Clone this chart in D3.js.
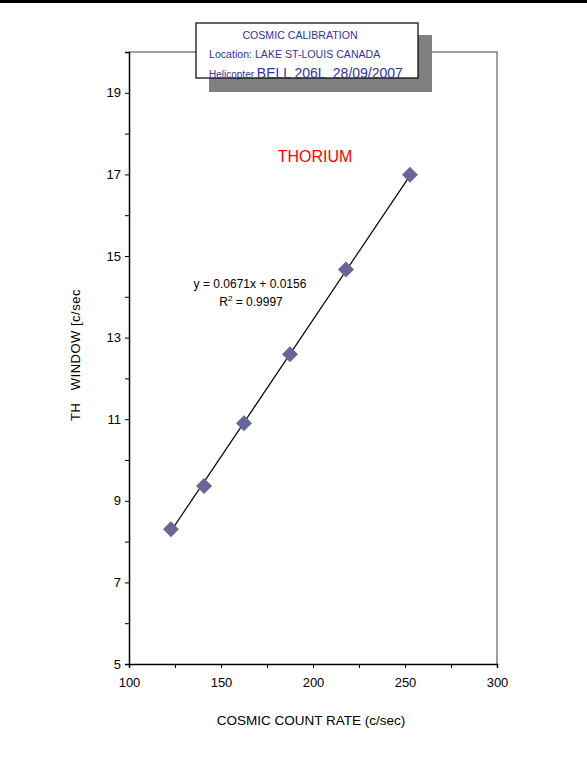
<!DOCTYPE html>
<html><head><meta charset="utf-8">
<script src="https://cdn.jsdelivr.net/npm/d3@7"></script>
<style>body{margin:0;background:#fff}svg{display:block;font-family:"Liberation Sans",Arial,sans-serif}svg text{white-space:pre}</style>
</head><body><svg id="c" width="587" height="761"></svg>
<script>
const cosmicRate = [122.8, 140.8, 162.5, 187.5, 217.9, 252.7];
const thWindow   = [8.30, 9.36, 10.90, 12.59, 14.67, 16.99];
const slope = 0.0671, intercept = 0.0156;
const xMajorTicks = [100, 150, 200, 250, 300];
const xMinorTicks = [100, 125, 150, 175, 200, 225, 250, 275, 300];
const yMajorTicks = [5, 7, 9, 11, 13, 15, 17, 19];
const yMinorTicks = d3.range(5, 21, 1);
const titleLines = ["COSMIC CALIBRATION", "Location: LAKE ST-LOUIS CANADA"];

const svg = d3.select("#c");
const L = 129, R = 497, T = 52, B = 664;
const x = d3.scaleLinear().domain([100, 300]).range([L, R]);
const y = d3.scaleLinear().domain([5, 20]).range([B, T]);

// top rule
svg.append("rect").attr("x", 0).attr("y", 0).attr("width", 587).attr("height", 3).attr("fill", "#000");

// plot frame (gray top/right)
svg.append("path").attr("d", `M${L},${T}H${R}V${B}`).attr("fill", "none").attr("stroke", "#808080").attr("stroke-width", 1.5);

// axes
const gx = svg.append("g").attr("transform", `translate(0,${B})`);
gx.call(d3.axisBottom(x).tickValues(xMinorTicks).tickSize(4).tickFormat(""));
const gx2 = svg.append("g").attr("transform", `translate(0,${B})`);
gx2.call(d3.axisBottom(x).tickValues(xMajorTicks).tickSize(0).tickPadding(14).tickFormat(d3.format("d")));
gx2.select(".domain").remove();
const gy = svg.append("g").attr("transform", `translate(${L},0)`);
gy.call(d3.axisLeft(y).tickValues(yMinorTicks).tickSize(4).tickFormat(""));
const gy2 = svg.append("g").attr("transform", `translate(${L},0)`);
gy2.call(d3.axisLeft(y).tickValues(yMajorTicks).tickSize(0).tickPadding(8).tickFormat(d3.format("d")));
gy2.select(".domain").remove();
svg.selectAll(".domain").attr("stroke", "#000").attr("stroke-width", 1.5);
svg.selectAll(".tick line").attr("stroke", "#000");
svg.selectAll(".tick text").attr("font-size", 13).attr("fill", "#000").attr("font-family", "Liberation Sans, Arial, sans-serif");

// trendline
const x0 = d3.min(cosmicRate), x1 = d3.max(cosmicRate);
svg.append("line").attr("x1", x(x0)).attr("y1", y(slope * x0 + intercept))
  .attr("x2", x(x1)).attr("y2", y(slope * x1 + intercept)).attr("stroke", "#000").attr("stroke-width", 1.2);

// markers
svg.append("g").selectAll("path").data(cosmicRate).join("path")
  .attr("transform", (d, i) => `translate(${x(d)},${y(thWindow[i])})`)
  .attr("d", "M0,-8L8,0L0,8L-8,0Z").attr("fill", "#666699");

// texts
svg.append("text").attr("x", 315).attr("y", 162).attr("text-anchor", "middle").attr("font-size", 16).attr("fill", "#ff0000").text("THORIUM");
svg.append("text").attr("x", 250).attr("y", 288).attr("text-anchor", "middle").attr("font-size", 12).text(`y = ${slope}x + ${intercept}`);
const r2 = svg.append("text").attr("x", 251).attr("y", 306).attr("text-anchor", "middle").attr("font-size", 12);
r2.append("tspan").text("R");
r2.append("tspan").attr("dy", -5).attr("font-size", 8).text("2");
r2.append("tspan").attr("dy", 5).text(" = 0.9997");

svg.append("text").attr("x", 311).attr("y", 725).attr("text-anchor", "middle").attr("font-size", 13.5).text("COSMIC COUNT RATE (c/sec)");
svg.append("text").attr("transform", "translate(80,355) rotate(-90)").attr("text-anchor", "middle").attr("font-size", 13).attr("letter-spacing", 0.5).text("TH   WINDOW [c/sec");

// title box with shadow
svg.append("rect").attr("x", 209).attr("y", 35).attr("width", 223).attr("height", 57).attr("fill", "#808080");
svg.append("rect").attr("x", 196).attr("y", 23).attr("width", 222).attr("height", 55).attr("fill", "#fff").attr("stroke", "#000").attr("stroke-width", 1.2);
svg.append("text").attr("x", 300).attr("y", 39).attr("text-anchor", "middle").attr("font-size", 10.6).attr("fill", "#333399").text(titleLines[0]);
svg.append("text").attr("x", 209).attr("y", 58).attr("font-size", 10.6).attr("fill", "#333399").text(titleLines[1]);
const h = svg.append("text").attr("x", 209).attr("y", 78).attr("fill", "#333399");
h.append("tspan").attr("font-size", 10).text("Helicopter ");
h.append("tspan").attr("font-size", 14).text("BELL 206L  28/09/2007");
</script></body></html>
